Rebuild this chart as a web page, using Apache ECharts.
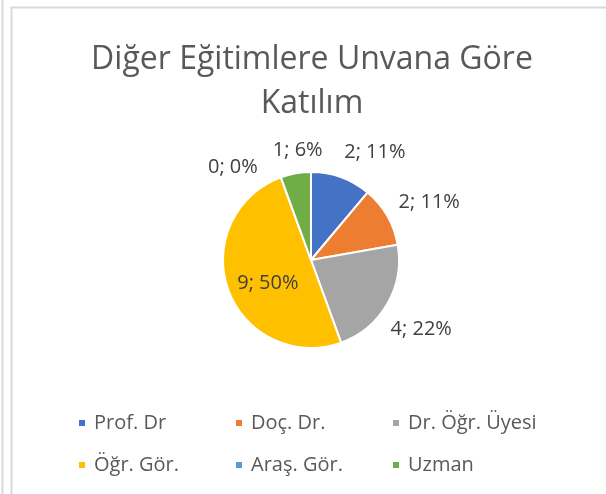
<!DOCTYPE html>
<html>
<head>
<meta charset="utf-8">
<script src="https://cdn.jsdelivr.net/npm/echarts@6/dist/echarts.min.js"></script>
<style>
	html,body{margin:0;padding:0;background:#fff;}
	#main{width:606px;height:494px;}
</style>
</head>
<body>
<div id="main"></div>
<script>
// unvanlar ve katilim sayilari
var unvanlar = ['Prof. Dr', 'Doç. Dr.', 'Dr. Öğr. Üyesi', 'Öğr. Gör.', 'Araş. Gör.', 'Uzman'];
var katilim = [2, 2, 4, 9, 0, 1];
var renkler = ['#4472C4', '#ED7D31', '#A5A5A5', '#FFC000', '#5B9BD5', '#70AD47'];

// etiket kaydirmalari (Excel yerlesimine yaklasmak icin)
var etiketYeri = [
	{position : 'outside', offset : [-6, -14]},
	{position : 'outside', offset : [-4, -8]},
	{position : 'outside', offset : [-12, 19]},
	{position : 'inside', offset : [1, 7]},
	{position : 'outside', offset : [-14, 1]},
	{position : 'outside', offset : [34, -11]}
];

var veri = [];
for (var i = 0; i < unvanlar.length; i++) {
	veri.push({
		name : unvanlar[i],
		value : katilim[i],
		itemStyle : {color : renkler[i]},
		label : etiketYeri[i]
	});
}

var dom = document.getElementById('main');
var myChart = echarts.init(dom);
var option = {
	backgroundColor : '#fff',
	title : {
		text : 'Diğer Eğitimlere Unvana Göre\nKatılım',
		left : 307,
		top : 33,
		textAlign : 'center',
		textStyle : {
			fontFamily : 'Open Sans',
			fontWeight : 'normal',
			fontSize : 32,
			lineHeight : 44,
			color : '#595959'
		}
	},
	legend : {
		left : 72,
		top : 402,
		width : 470,
		icon : 'rect',
		itemWidth : 8,
		itemHeight : 8,
		itemGap : 10,
		textStyle : {
			fontFamily : 'Open Sans',
			fontSize : 20,
			color : '#595959',
			width : 130,
			lineHeight : 32,
			padding : [0, 0, 0, 3]
		},
		data : unvanlar
	},
	graphic : [
		{type : 'line', shape : {x1 : 2.5, y1 : 0, x2 : 2.5, y2 : 494}, style : {stroke : '#d9d9d9', lineWidth : 2}},
		{type : 'line', shape : {x1 : 11.5, y1 : 7, x2 : 11.5, y2 : 494}, style : {stroke : '#d9d9d9', lineWidth : 2}},
		{type : 'line', shape : {x1 : 11, y1 : 7.5, x2 : 606, y2 : 7.5}, style : {stroke : '#d9d9d9', lineWidth : 2}}
	],
	series : [
		{
			name : 'Katılım',
			type : 'pie',
			center : [311, 260],
			radius : 88,
			startAngle : 90,
			clockwise : true,
			percentPrecision : 0,
			avoidLabelOverlap : false,
			minShowLabelAngle : -1,
			itemStyle : {
				borderColor : '#fff',
				borderWidth : 2
			},
			label : {
				formatter : '{c}; {d}%',
				fontFamily : 'Open Sans',
				fontSize : 20,
				color : '#404040'
			},
			labelLine : {
				show : false,
				length : 12,
				length2 : 0
			},
			emphasis : {disabled : true},
			data : veri
		}
	]
};
myChart.setOption(option);
</script>
</body>
</html>
